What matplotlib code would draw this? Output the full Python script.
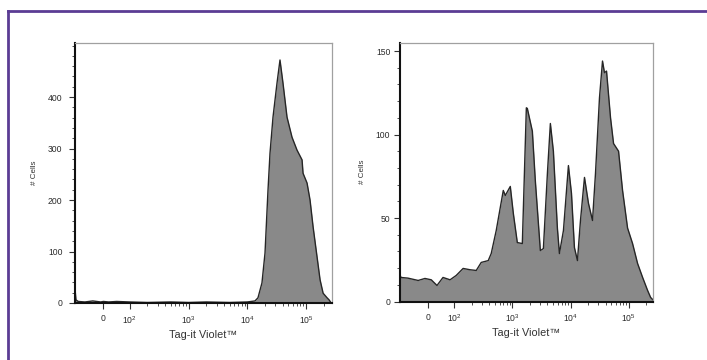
import matplotlib
matplotlib.use("Agg")
import matplotlib.pyplot as plt
from matplotlib.lines import Line2D
from matplotlib.ticker import MultipleLocator, FixedLocator

plt.rcParams['font.family'] = ['Liberation Sans', 'DejaVu Sans']
plt.rcParams['mathtext.fontset'] = 'custom'
plt.rcParams['mathtext.rm'] = 'Liberation Sans'
plt.rcParams['mathtext.it'] = 'Liberation Sans:italic'

# Undivided cells: single bright Tag-it Violet peak
undivided_x = [-108, -104, -95, -70, -40, -10, 0, 20, 50, 100, 200, 500, 1000,
               2000, 5000, 10000, 13550, 15240, 17830, 20090, 22590, 24440,
               27490, 32150, 36160, 40670, 47640, 57940, 70470, 85900, 89300,
               104500, 117500, 132400, 154900, 174200, 196200, 229600, 248400,
               262143]
undivided_counts = [28, 6, 3, 2, 4, 2, 3, 2, 3, 2, 1, 2, 1, 2, 1, 2, 4, 10, 39,
                    97, 219, 291, 361, 427, 472, 427, 361, 322, 297, 278, 252,
                    233, 200, 148, 89, 45, 19, 10, 6, 2]

# Proliferating cells: successive division peaks
divided_x = [-108, -104, -77, -38, -12, 12, 34, 57, 84, 108, 142, 188, 239, 291,
             384, 432, 527, 697, 755, 920, 1038, 1215, 1482, 1738, 1807, 2204,
             2483, 3027, 3412, 4000, 4500, 5070, 5940, 6440, 7550, 9200, 10380,
             11670, 13150, 14820, 17380, 20370, 23880, 26860, 31480, 35480,
             38370, 41590, 48750, 54950, 66990, 78520, 95740, 116700, 142300,
             173800, 211800, 238800, 262143]
divided_counts = [16, 14.4, 14, 12.6, 13.8, 13, 9.6, 14.4, 13, 15.6, 19.8, 19,
                  18.6, 23.4, 24.5, 28.7, 42.5, 66.5, 63.5, 68.9, 52.7, 35.3,
                  34.7, 116, 115.6, 102, 72, 30.5, 31.7, 76.6, 106.6, 90, 44,
                  28.7, 42.5, 81.4, 64.7, 32.3, 24.5, 48.5, 74.3, 58.7, 48.5,
                  76.6, 122, 144, 137, 138, 110, 94.6, 90, 66.5, 44, 34.7, 22.8,
                  14.4, 6.6, 2.4, 1]

x_tick_values = [0, 100, 1000, 10000, 100000]
x_tick_labels = ['0', '$10^2$', '$10^3$', '$10^4$', '$10^5$']
x_minor_values = [k * 10 ** d for d in (2, 3, 4) for k in range(2, 10)] + [200000]

undivided_y_ticks = [0, 100, 200, 300, 400]
divided_y_ticks = [0, 50, 100, 150]

x_label = 'Tag-it Violet\u2122'
y_label = '# Cells'

W, H = 707, 360
fig = plt.figure(figsize=(W / 100, H / 100), dpi=100)


def px_axes(x0, y0, x1, y1):
    return fig.add_axes([x0 / W, 1 - y1 / H, (x1 - x0) / W, (y1 - y0) / H])


def style(ax, xs, ys, ymax, yticks, yminor, xmax, ypad):
    ax.set_xscale('symlog', linthresh=100, linscale=0.405, base=10)
    ax.fill_between(xs, ys, 0, color='#898989', lw=0)
    ax.plot(xs, ys, color='#262626', lw=1.0)
    ax.set_xlim(-108, xmax)
    ax.set_ylim(0, ymax)
    ax.xaxis.set_major_locator(FixedLocator(x_tick_values))
    ax.set_xticklabels(x_tick_labels)
    ax.xaxis.set_minor_locator(FixedLocator(x_minor_values))
    ax.yaxis.set_major_locator(FixedLocator(yticks))
    ax.yaxis.set_minor_locator(MultipleLocator(yminor))
    ax.tick_params(axis='both', which='major', length=4, width=0.8,
                   labelsize=6.2, labelcolor='#2a2a2a', color='#333333')
    ax.tick_params(axis='both', which='minor', length=2, width=0.6,
                   color='#333333')
    ax.tick_params(axis='x', which='major', pad=4)
    ax.tick_params(axis='y', which='major', pad=ypad)
    for side in ('left', 'bottom'):
        ax.spines[side].set_color('#111111')
        ax.spines[side].set_linewidth(1.5)
    for side in ('top', 'right'):
        ax.spines[side].set_color('#a0a0a0')
        ax.spines[side].set_linewidth(0.9)
    ax.set_xlabel(x_label, fontsize=7.8, color='#333333', labelpad=3)
    ax.set_ylabel(y_label, fontsize=5.8, color='#333333', labelpad=7)


ax1 = px_axes(75, 43, 332, 303)
style(ax1, undivided_x, undivided_counts, 505, undivided_y_ticks, 20, 278000, 5)

ax2 = px_axes(400, 43, 653, 301.5)
style(ax2, divided_x, divided_counts, 154.8, divided_y_ticks, 10, 262143, 3)

# Purple frame along the top and left edges
purple = '#5b3c94'
fig.add_artist(Line2D([8 / W, 1], [1 - 11 / H, 1 - 11 / H], color=purple,
                      lw=2.0, transform=fig.transFigure))
fig.add_artist(Line2D([8 / W, 8 / W], [0, 1 - 11 / H], color=purple,
                      lw=2.0, transform=fig.transFigure))

fig.savefig('out.png', dpi=100)
